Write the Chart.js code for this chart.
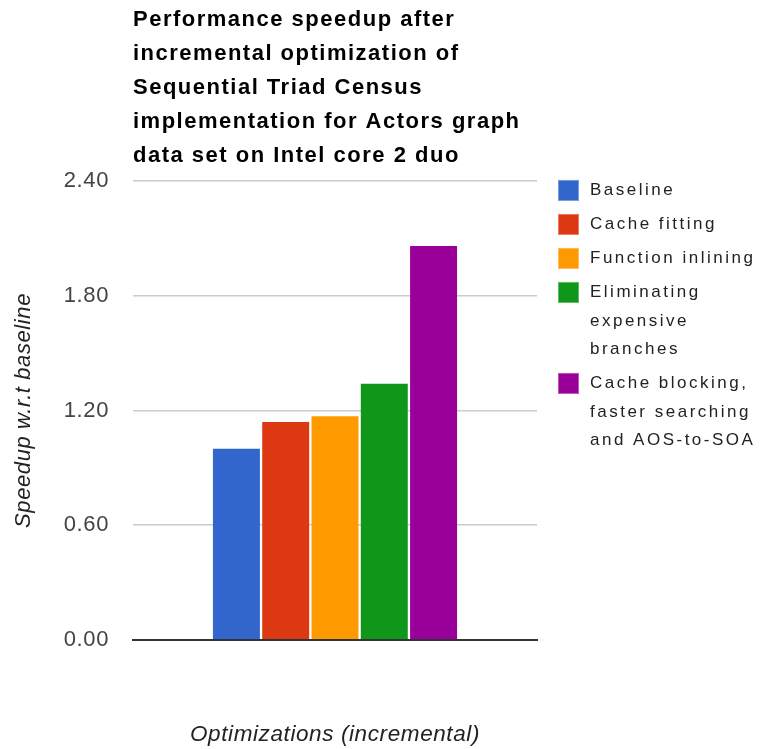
<!DOCTYPE html>
<html>
<head>
<meta charset="utf-8">
<script src="https://cdn.jsdelivr.net/npm/chart.js@4"></script>
<style>
  html, body { margin: 0; padding: 0; background: #ffffff; }
  #c { display: block; }
</style>
</head>
<body>
<canvas id="c" width="763" height="749"></canvas>
<script>
// ---- data ----
const categories = [''];
const seriesNames = [
  'Baseline',
  'Cache fitting',
  'Function inlining',
  'Eliminating expensive branches',
  'Cache blocking, faster searching and AOS-to-SOA'
];
const legendLines = [
  ['Baseline'],
  ['Cache fitting'],
  ['Function inlining'],
  ['Eliminating', 'expensive', 'branches'],
  ['Cache blocking,', 'faster searching', 'and AOS-to-SOA']
];
const speedups = [1.00, 1.14, 1.17, 1.34, 2.06];
const seriesColors = ['#3366cc', '#dc3912', '#ff9900', '#109618', '#990099'];
const titleLines = [
  'Performance speedup after',
  'incremental optimization of',
  'Sequential Triad Census',
  'implementation for Actors graph',
  'data set on Intel core 2 duo'
];
const yAxisTitle = 'Speedup w.r.t baseline';
const xAxisTitle = 'Optimizations (incremental)';
const yMin = 0, yMax = 2.4, yStep = 0.6;

const FONT = "'Liberation Sans', Arial, sans-serif";
const BASE_SPACING = '0.6px';

// letter spacing for the whole canvas + wider spacing for the title
const spacingPlugin = {
  id: 'spacing',
  beforeUpdate(chart) { chart.ctx.letterSpacing = BASE_SPACING; },
  beforeLayout(chart) { chart.ctx.letterSpacing = BASE_SPACING; },
  beforeDraw(chart) {
    chart.ctx.letterSpacing = BASE_SPACING;
    const tb = chart.titleBlock;
    if (tb && !tb._spacingPatched) {
      const orig = tb.draw.bind(tb);
      tb.draw = function (area) {
        const c = this.ctx;
        c.save();
        c.letterSpacing = '1.5px';
        orig(area);
        c.restore();
      };
      tb._spacingPatched = true;
    }
  }
};

// Legend drawn to the right of the plot area, with wrapped labels
const sideLegend = {
  id: 'sideLegend',
  afterDraw(chart) {
    const { ctx, chartArea } = chart;
    const boxSize = 21;
    const lineGap = 28.5;
    const itemGap = 5.5;
    const boxX = chartArea.right + 21;
    const textX = boxX + boxSize + 11;
    let cy = chartArea.top + 9.5;
    ctx.save();
    ctx.letterSpacing = '2.5px';
    ctx.font = "17px " + FONT;
    ctx.textBaseline = 'middle';
    ctx.textAlign = 'left';
    chart.data.datasets.forEach((ds, i) => {
      ctx.fillStyle = ds.backgroundColor;
      ctx.fillRect(boxX, cy - boxSize / 2, boxSize, boxSize);
      ctx.strokeStyle = 'rgba(255,255,255,0.35)';
      ctx.lineWidth = 1;
      ctx.strokeRect(boxX + 0.5, cy - boxSize / 2 + 0.5, boxSize - 1, boxSize - 1);
      ctx.fillStyle = '#222222';
      const lines = legendLines[i];
      lines.forEach((ln, k) => {
        ctx.fillText(ln, textX, cy + k * lineGap);
      });
      cy += lines.length * lineGap + itemGap;
    });
    ctx.restore();
  }
};

const datasets = seriesNames.map((name, i) => ({
  label: name,
  data: [speedups[i]],
  backgroundColor: seriesColors[i],
  borderWidth: 0,
  categoryPercentage: 0.61,
  barPercentage: 0.953
}));

new Chart(document.getElementById('c'), {
  type: 'bar',
  data: { labels: categories, datasets },
  plugins: [spacingPlugin, sideLegend],
  options: {
    responsive: false,
    animation: false,
    devicePixelRatio: 1,
    layout: { padding: { left: 0, right: 226, top: 0, bottom: 0 } },
    plugins: {
      tooltip: { enabled: false },
      legend: { display: false },
      title: {
        display: true,
        text: titleLines,
        align: 'start',
        fullSize: false,
        color: '#000000',
        font: { family: FONT, size: 22, weight: 'bold', lineHeight: 1.545 },
        padding: { top: 2.7, bottom: 8.3 }
      }
    },
    scales: {
      x: {
        grid: { display: false, drawTicks: false },
        border: { display: true, color: '#333333', width: 2 },
        ticks: { display: false },
        title: {
          display: true,
          text: xAxisTitle,
          color: '#222222',
          font: { family: FONT, size: 22.5, style: 'italic', lineHeight: 1.2 },
          padding: { top: 0, bottom: 0.5 }
        },
        afterFit: (s) => { s.height = 109; }
      },
      y: {
        min: yMin,
        max: yMax,
        grid: {
          drawTicks: false,
          color: (ctx) => (ctx.tick && ctx.tick.value === 0) ? '#333333' : '#cccccc',
          lineWidth: (ctx) => (ctx.tick && ctx.tick.value === 0) ? 2 : 1.5
        },
        border: { display: false },
        ticks: {
          stepSize: yStep,
          padding: 24,
          color: '#444444',
          font: { family: FONT, size: 22 },
          callback: (v) => Number(v).toFixed(2)
        },
        title: {
          display: true,
          text: yAxisTitle,
          color: '#222222',
          font: { family: FONT, size: 22, style: 'italic', lineHeight: 1.2 },
          padding: { top: 11, bottom: 0 }
        },
        afterFit: (s) => { s.width = 133; }
      }
    }
  }
});
</script>
</body>
</html>
